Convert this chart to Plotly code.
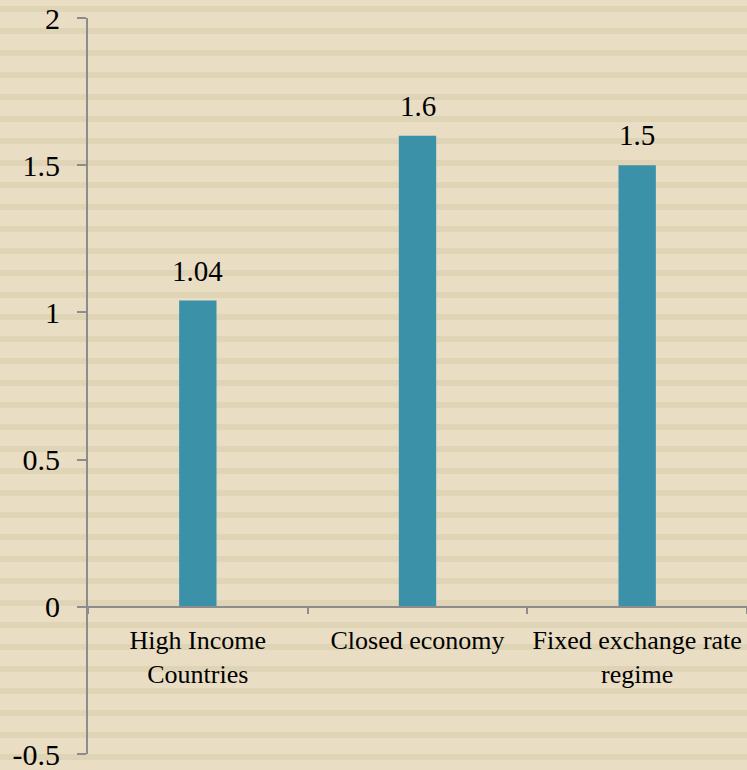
import plotly.graph_objects as go

categories = ["High Income<br>Countries", "Closed economy", "Fixed exchange rate<br>regime"]
values = [1.04, 1.6, 1.5]
value_labels = ["1.04", "1.6", "1.5"]
y_tickvals = [-0.5, 0, 0.5, 1, 1.5, 2]
y_ticktext = ["-0.5", "0", "0.5", "1", "1.5", "2"]

W, H = 747, 770
ML, MR, MT, MB = 88, 0, 18, 16
plot_h = H - MT - MB
plot_w = W - ML - MR

fig = go.Figure()
fig.add_trace(go.Bar(
    x=categories, y=values,
    marker=dict(color="#3A91A8", line=dict(width=0)),
    width=0.17,
))

for c, v, t in zip(categories, values, value_labels):
    fig.add_annotation(x=c, y=v, text=t, showarrow=False, yanchor="bottom",
                       yshift=12,
                       font=dict(family="Liberation Serif, Times New Roman, serif",
                                 size=29, color="#000000"))

# striped background texture
shapes = []
y = 6
while y < H:
    y0 = (H - MB - (y + 6)) / plot_h
    y1 = (H - MB - y) / plot_h
    shapes.append(dict(type="rect", xref="paper", yref="paper",
                       x0=-ML / plot_w - 0.01, x1=1.01, y0=y0, y1=y1,
                       fillcolor="#E0D4B6", line=dict(width=0), layer="below"))
    y += 22

zero_pos = (2 - 0) / 2.5  # fraction from top
serif = "Liberation Serif, Times New Roman, serif"
fig.update_layout(
    width=W, height=H,
    margin=dict(l=ML, r=MR, t=MT, b=MB),
    paper_bgcolor="#E9DDC4", plot_bgcolor="rgba(0,0,0,0)",
    showlegend=False, shapes=shapes,
    font=dict(family=serif, color="#000000"),
    xaxis=dict(type="category", anchor="free", position=1 - zero_pos,
               showline=True, linecolor="#8C8C8C", linewidth=2,
               ticks="outside", tickson="boundaries", ticklen=6, tickwidth=1.5,
               tickcolor="#8C8C8C", showgrid=False, ticklabelstandoff=10,
               tickfont=dict(family=serif, size=26, color="#000000")),
    yaxis=dict(range=[-0.5, 2], tickvals=y_tickvals, ticktext=y_ticktext,
               showline=True, linecolor="#8C8C8C", linewidth=2,
               ticks="outside", ticklen=9, tickwidth=1.5, tickcolor="#8C8C8C",
               showgrid=False, zeroline=False, ticklabelstandoff=11,
               ticklabeloverflow="allow",
               tickfont=dict(family=serif, size=30, color="#000000")),
)
fig.write_html("out.html")
